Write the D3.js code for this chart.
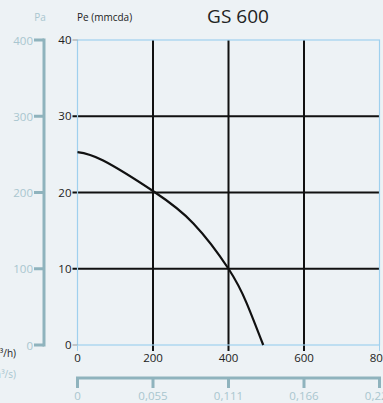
<!DOCTYPE html>
<html><head><meta charset="utf-8">
<script src="https://cdn.jsdelivr.net/npm/d3@7"></script>
<style>body{margin:0;background:#edf2f5;}svg{display:block;font-family:"Open Sans",sans-serif;}</style>
</head><body><svg id="c" width="383" height="403"></svg>
<script>
const flowM3h = [0, 68, 200, 307, 400, 448, 492];
const pressureMmcda = [25.3, 24.2, 20.2, 15.95, 10, 5.5, 0];
const xTicks = [0, 200, 400, 600, 800];
const yTicks = [0, 10, 20, 30, 40];
const paTicks = [0, 100, 200, 300, 400];
const m3sTicks = ["0", "0,055", "0,111", "0,166", "0,222"];
const title = "GS 600";

const svg = d3.select("#c");
const x = d3.scaleLinear().domain([0, 800]).range([77.5, 379.5]);
const y = d3.scaleLinear().domain([0, 40]).range([345, 40]);
const yPa = d3.scaleLinear().domain([0, 400]).range([345, 40]);
const xS = d3.scalePoint().domain(m3sTicks).range([77.5, 379.5]);

svg.append("rect").attr("width",383).attr("height",403).attr("fill","#edf2f5");

const g = svg.append("g");
g.selectAll(".vg").data(xTicks.filter(d=>d>0&&d<800)).join("line")
  .attr("x1",d=>x(d)).attr("x2",d=>x(d)).attr("y1",y(40)).attr("y2",y(0)+6)
  .attr("stroke","#111").attr("stroke-width",2);
g.selectAll(".hg").data(yTicks.filter(d=>d>0&&d<40)).join("line")
  .attr("x1",x(0)-5).attr("x2",x(800)).attr("y1",d=>y(d)).attr("y2",d=>y(d))
  .attr("stroke","#111").attr("stroke-width",2);
svg.append("rect").attr("x",x(0)).attr("y",y(40)).attr("width",x(800)-x(0)).attr("height",y(0)-y(40))
  .attr("fill","none").attr("stroke","#9fd0ee").attr("stroke-width",1.2);
[0,40].forEach(v=>svg.append("line").attr("x1",x(0)-5).attr("x2",x(0)).attr("y1",y(v)).attr("y2",y(v)).attr("stroke","#999").attr("stroke-width",1));
svg.append("line").attr("x1",x(0)).attr("x2",x(0)).attr("y1",y(0)).attr("y2",y(0)+6).attr("stroke","#9fd0ee");
svg.append("line").attr("x1",x(800)).attr("x2",x(800)).attr("y1",y(0)).attr("y2",y(0)+6).attr("stroke","#9fd0ee");

svg.selectAll(".yl").data(yTicks).join("text")
  .attr("x",x(0)-6).attr("y",d=>y(d)+4).attr("text-anchor","end")
  .attr("font-size",11.5).attr("fill","#222").text(d=>d);
svg.selectAll(".xl").data(xTicks).join("text")
  .attr("x",d=>x(d)).attr("y",362).attr("text-anchor","middle")
  .attr("font-size",11.5).attr("fill","#222").text(d=>d);

const pts = flowM3h.map((q,i)=>[q, pressureMmcda[i]]);
svg.append("path").datum(pts)
  .attr("d", d3.line().x(d=>x(d[0])).y(d=>y(d[1])).curve(d3.curveNatural))
  .attr("fill","none").attr("stroke","#111").attr("stroke-width",2.2);

const paCol = "#8fb3bd", paTxt = "#a9c6cf";
svg.append("line").attr("x1",44).attr("x2",44).attr("y1",yPa(400)-1.5).attr("y2",yPa(0)+1.5).attr("stroke",paCol).attr("stroke-width",3);
svg.selectAll(".pt").data(paTicks).join("line")
  .attr("x1",34).attr("x2",44).attr("y1",d=>yPa(d)).attr("y2",d=>yPa(d)).attr("stroke",paCol).attr("stroke-width",3);
svg.selectAll(".pl").data(paTicks).join("text")
  .attr("x",33).attr("y",d=>yPa(d)+4.5).attr("text-anchor","end")
  .attr("font-size",11.5).attr("fill",paTxt).text(d=>d);

svg.append("line").attr("x1",x(0)-1.5).attr("x2",x(800)+1.5).attr("y1",378).attr("y2",378).attr("stroke",paCol).attr("stroke-width",3);
svg.selectAll(".st").data(m3sTicks).join("line")
  .attr("x1",d=>xS(d)).attr("x2",d=>xS(d)).attr("y1",378).attr("y2",388).attr("stroke",paCol).attr("stroke-width",3);
svg.selectAll(".sl").data(m3sTicks).join("text")
  .attr("x",d=>xS(d)).attr("y",400).attr("text-anchor","middle")
  .attr("font-size",11.5).attr("fill",paTxt).text(d=>d);

svg.append("text").attr("x",40).attr("y",21).attr("text-anchor","middle").attr("font-size",10).attr("fill",paTxt).text("Pa");
svg.append("text").attr("x",77).attr("y",21).attr("font-size",10).attr("fill","#222").text("Pe (mmcda)");
svg.append("text").attr("x",16).attr("y",357).attr("text-anchor","end").attr("font-size",10).attr("fill","#222").text("(m³/h)");
svg.append("text").attr("x",16).attr("y",378).attr("text-anchor","end").attr("font-size",10).attr("fill",paTxt).text("(m³/s)");
svg.append("text").attr("x",238).attr("y",23).attr("text-anchor","middle").attr("font-size",19).attr("fill","#222").text(title);
</script></body></html>
